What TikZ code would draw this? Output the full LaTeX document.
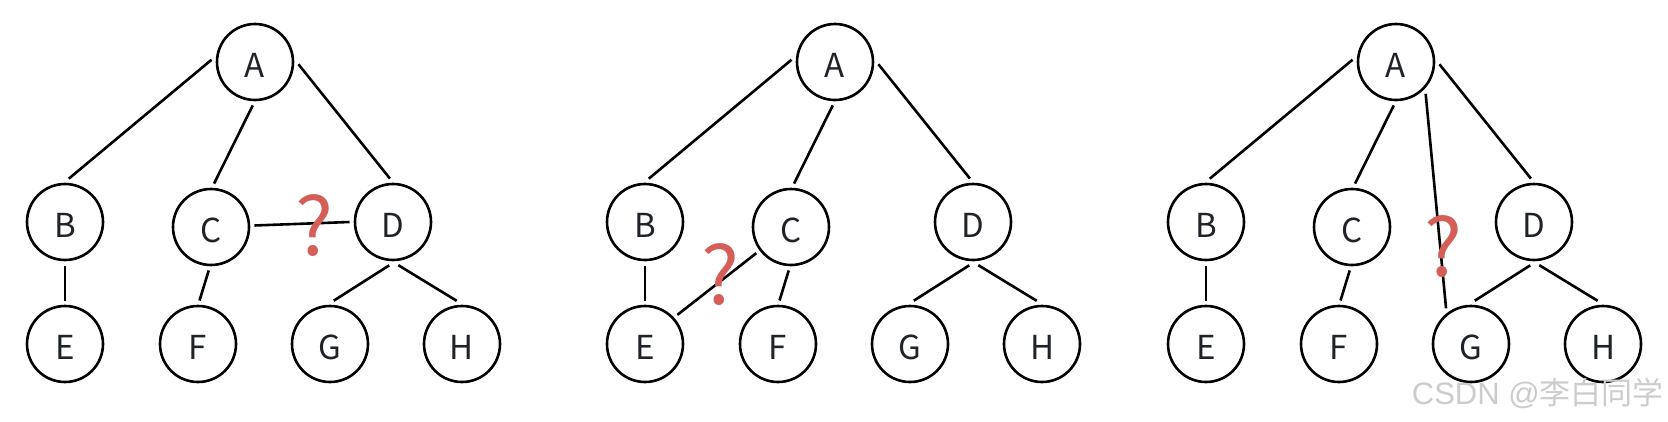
\documentclass[tikz,border=0pt]{standalone}
\usepackage{fontspec}
\newfontfamily\cjkfont{Noto Sans CJK SC}
\newfontfamily\wmlatin{Liberation Sans}
\definecolor{lbl}{RGB}{31,35,41}
\definecolor{qred}{RGB}{214,94,88}
\definecolor{wm}{RGB}{204,204,204}
\tikzset{
  tnode/.style={circle, draw=black, line width=2.6pt, minimum size=76pt, inner sep=0pt, outer sep=5.5pt, text=lbl, text height=30pt, text depth=0pt, font=\cjkfont\fontsize{33}{33}\selectfont},
  edge/.style={line width=2.6pt, draw=black},
  qmark/.style={text=qred, font=\cjkfont\fontsize{80}{80}\selectfont, inner sep=0pt},
  wmark/.style={text=wm, inner sep=0pt, font=\fontsize{31}{31}\selectfont}
}
\newcommand\basetree[1]{%
  \node[tnode] (#1A) at (255,62) {A};
  \node[tnode] (#1B) at (65,222) {B};
  \node[tnode] (#1C) at (211,227) {C};
  \node[tnode] (#1D) at (393,222) {D};
  \node[tnode] (#1E) at (65,344) {E};
  \node[tnode] (#1F) at (198,344) {F};
  \node[tnode] (#1G) at (330,344) {G};
  \node[tnode] (#1H) at (462,344) {H};
  \draw[edge] (#1A.177) -- (#1B.85);
  \draw[edge] (#1A.267) -- (#1C.86);
  \draw[edge] (#1A.-3) -- (#1D.94);
  \draw[edge] (#1B.270) -- (#1E.90);
  \draw[edge] (#1C.267) -- (#1F.88);
  \draw[edge] (#1D.265) -- (#1G.85);
  \draw[edge] (#1D.277) -- (#1H.97);
}
\begin{document}
\begin{tikzpicture}[x=1pt,y=-1pt]
  \useasboundingbox[fill=white] (0,0) rectangle (1668,421);
  % tree 1
  \begin{scope}
    \basetree{p}
    \draw[edge] (pC.2) -- (pD.180);
    \node[qmark] (pq) at (314,226) {?};
  \end{scope}
  % tree 2
  \begin{scope}[xshift=580pt]
    \basetree{q}
    \draw[edge] (qC.217) -- (qE.42);
    \node[qmark] (qq) at (140,275) {?};
  \end{scope}
  % tree 3
  \begin{scope}[xshift=1141pt]
    \basetree{r}
    \draw[edge] (rA.313) -- (rG.125);
    \node[qmark] (rq) at (302,247) {?};
  \end{scope}
  \node[wmark, anchor=east] (wm) at (1664,393) {\wmlatin CSDN @\cjkfont 李白同学};
\end{tikzpicture}
\end{document}
